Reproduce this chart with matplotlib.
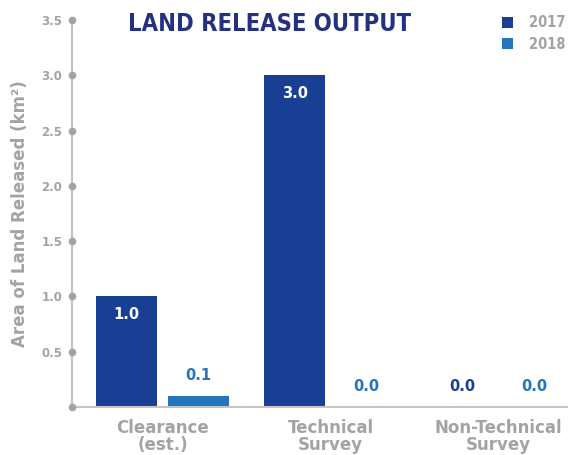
import numpy as np
import matplotlib.pyplot as plt

categories = ['Clearance\n(est.)', 'Technical\nSurvey', 'Non-Technical\nSurvey']
years = ['2017', '2018']
values_2017 = [1.0, 3.0, 0.0]
values_2018 = [0.1, 0.0, 0.0]
yticks = [0.5, 1.0, 1.5, 2.0, 2.5, 3.0, 3.5]

c17 = '#183f94'
c18 = '#2475bb'
grey = '#a3a3a3'
axis_grey = '#c4c4c4'

plt.rcParams['font.family'] = 'DejaVu Sans'

fig = plt.figure(figsize=(5.68, 4.55), dpi=100)
ax = fig.add_axes([0.1268, 0.1055, 0.8732, 0.8505])

x = np.arange(len(categories))
w = 0.363
off = 0.214
b1 = ax.bar(x - off, values_2017, w, color=c17, label=years[0])
b2 = ax.bar(x + off, values_2018, w, color=c18, label=years[1])

for xi, v in zip(x - off, values_2017):
    if v > 0.5:
        ax.text(xi, v - 0.1, f'{v:.1f}', ha='center', va='top', color='white',
                fontsize=10.5, fontweight='bold')
    else:
        ax.text(xi, v + 0.12, f'{v:.1f}', ha='center', va='bottom', color=c17,
                fontsize=10.5, fontweight='bold')
for xi, v in zip(x + off, values_2018):
    ax.text(xi, v + 0.12, f'{v:.1f}', ha='center', va='bottom', color=c18,
            fontsize=10.5, fontweight='bold')

ax.set_xlim(-0.539, 2.414)
ax.set_ylim(0, 3.5)

for s in ['top', 'right']:
    ax.spines[s].set_visible(False)
ax.spines['left'].set_color(axis_grey)
ax.spines['bottom'].set_color(axis_grey)
ax.spines['left'].set_linewidth(1.5)
ax.spines['bottom'].set_linewidth(1.5)

# dots on the axis at each tick
ax.plot([-0.539] * (len(yticks) + 1), [0] + yticks, 'o', color=grey, ms=4.5,
        clip_on=False, zorder=5)

ax.set_yticks(yticks)
ax.set_yticklabels([f'{t:.1f}' for t in yticks], color=grey, fontsize=8.5,
                   fontweight='bold')
ax.tick_params(axis='y', length=0, pad=7)
ax.set_xticks(x)
ax.set_xticklabels(categories, color=grey, fontsize=12, fontweight='bold',
                   linespacing=0.92)
ax.tick_params(axis='x', length=0, pad=9)

ax.set_ylabel('Area of Land Released (km²)', color=grey, fontsize=12,
              fontweight='bold', labelpad=9)

fig.text(0.474, 0.947, 'LAND RELEASE OUTPUT', ha='center', va='center',
         color='#243080', fontsize=17, fontweight='bold', stretch='condensed')

ax.legend(loc='upper right', bbox_to_anchor=(0.994, 1.012), frameon=False,
          labelcolor=grey,
          prop={'weight': 'bold', 'size': 10.5, 'stretch': 'condensed'},
          handlelength=0.78, handleheight=0.78, handletextpad=1.05,
          labelspacing=0.45, borderpad=0, borderaxespad=0)

fig.savefig('out.png', dpi=100)
